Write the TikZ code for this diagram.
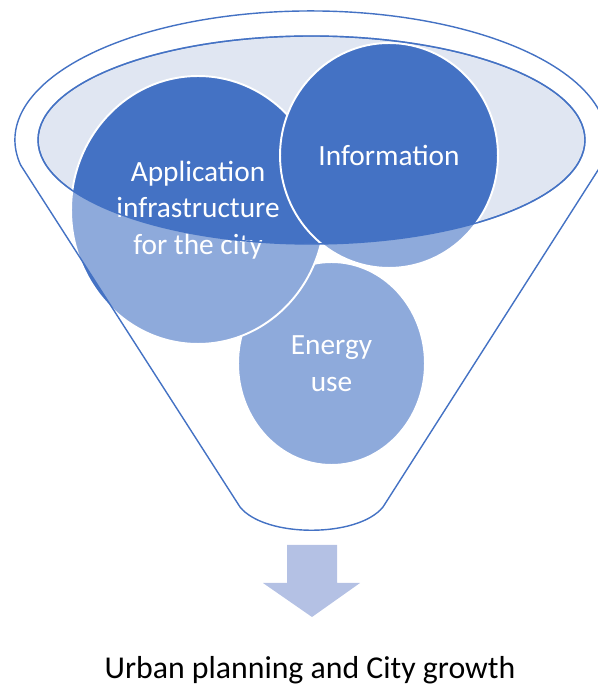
\documentclass[tikz,border=0pt]{standalone}
\usepackage{fontspec}
\setmainfont{Carlito}
\usetikzlibrary{shapes.geometric}

\definecolor{funnelblue}{RGB}{68,114,196}
\definecolor{rimfill}{RGB}{224,230,242}
\definecolor{arrowfill}{RGB}{180,193,228}

\tikzset{bubble/.style={ellipse,draw=white,line width=1.1pt,fill=funnelblue,text=white,
  inner sep=0pt,align=center,font=\fontsize{16.7}{20.8}\selectfont}}

\begin{document}
\begin{tikzpicture}[x=0.02cm,y=0.02cm]
\clip (0,0) rectangle (598,690);

% inner rim of the funnel
\draw [funnelblue,fill=rimfill,line width=0.8pt](311.5,550) ellipse (273.5 and 104);

\node [bubble,minimum width=3.74cm,minimum height=4.06cm] (energy) at (331.5,326.5) {Energy\\use};
\node [bubble,minimum width=5.08cm,minimum height=5.36cm] (app) at (198,480) {Application\\infrastructure\\for the city};
\node [bubble,minimum width=4.36cm,minimum height=4.5cm] (info) at (389,534.5) {Information};

% funnel body, lightens what lies below the rim
\path [fill=white,fill opacity=0.4,even odd rule,draw=funnelblue,line width=0.8pt]
  (20.6,525) arc [start angle=191.2,end angle=-11.2,x radius=296,y radius=129]
  -- (383,183) .. controls (358,152) and (265,152) .. (240,183) -- cycle
  (311.5,550) ellipse (273.5 and 104);

\fill [arrowfill](287,145)--(337,145)--(337,107)--(360,107)--(312,73)--(263,107)--(287,107)--cycle;

\node [font=\fontsize{18.1}{22}\selectfont] (growth) at (310,20) {Urban planning and City growth};

\end{tikzpicture}
\end{document}
